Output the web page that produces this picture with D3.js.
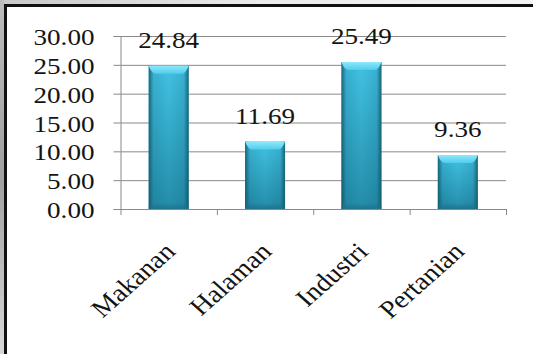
<!DOCTYPE html>
<html><head><meta charset="utf-8">
<script src="https://cdn.jsdelivr.net/npm/d3@7"></script>
<style>html,body{margin:0;padding:0;background:#fff;}svg{display:block;}</style>
</head><body>
<svg id="c" width="533" height="354"></svg>
<script>
const categories = ["Makanan", "Halaman", "Industri", "Pertanian"];
const values = [24.84, 11.69, 25.49, 9.36];
const yTicks = [0, 5, 10, 15, 20, 25, 30];

(function () {
const W = 533, H = 354;
const sx = 1.13; // horizontal stretch of the picture
const svg = d3.select("#c");
const defs = svg.append("defs");

// frame shading
const shade = defs.append("linearGradient").attr("id","shL").attr("x1",0).attr("x2",0).attr("y1",0).attr("y2",1);
shade.append("stop").attr("offset",0).attr("stop-color","#bdbdbd");
shade.append("stop").attr("offset",0.5).attr("stop-color","#a0a0a0");
shade.append("stop").attr("offset",1).attr("stop-color","#d8d8d8");
const shT = defs.append("linearGradient").attr("id","shT").attr("x1",0).attr("x2",1).attr("y1",0).attr("y2",0);
shT.append("stop").attr("offset",0).attr("stop-color","#c8c8c8");
shT.append("stop").attr("offset",0.5).attr("stop-color","#ececec");
shT.append("stop").attr("offset",1).attr("stop-color","#f4f4f4");
svg.append("rect").attr("x",0).attr("y",0).attr("width",W).attr("height",4).attr("fill","url(#shT)");
svg.append("rect").attr("x",0).attr("y",0).attr("width",4).attr("height",H).attr("fill","url(#shL)");
svg.append("rect").attr("x",4).attr("y",4).attr("width",W-4).attr("height",3).attr("fill","#111");
svg.append("rect").attr("x",4).attr("y",4).attr("width",3).attr("height",H-4).attr("fill","#111");

// bar gradients
const gV = defs.append("linearGradient").attr("id","gV").attr("x1",0).attr("x2",0).attr("y1",0).attr("y2",1);
gV.append("stop").attr("offset",0).attr("stop-color","#42c3e4");
gV.append("stop").attr("offset",1).attr("stop-color","#238daa");
const gH = defs.append("linearGradient").attr("id","gH").attr("x1",0).attr("x2",1).attr("y1",0).attr("y2",0);
gH.append("stop").attr("offset",0).attr("stop-color","#0d4f63").attr("stop-opacity",0.8);
gH.append("stop").attr("offset",0.12).attr("stop-color","#0d4f63").attr("stop-opacity",0.15);
gH.append("stop").attr("offset",0.5).attr("stop-color","#0d4f63").attr("stop-opacity",0);
gH.append("stop").attr("offset",0.88).attr("stop-color","#0d4f63").attr("stop-opacity",0.15);
gH.append("stop").attr("offset",1).attr("stop-color","#0d4f63").attr("stop-opacity",0.8);
const gB = defs.append("linearGradient").attr("id","gB").attr("x1",0).attr("x2",0).attr("y1",0).attr("y2",1);
gB.append("stop").attr("offset",0).attr("stop-color","#1d6f86").attr("stop-opacity",0);
gB.append("stop").attr("offset",1).attr("stop-color","#1d6f86").attr("stop-opacity",0.8);
const gCap = defs.append("linearGradient").attr("id","gCap").attr("x1",0).attr("x2",0).attr("y1",0).attr("y2",1);
gCap.append("stop").attr("offset",0).attr("stop-color","#8ee8fb");
gCap.append("stop").attr("offset",1).attr("stop-color","#4fcdec");

const pLeft = 120.5, pRight = 506, pTop = 36, pBottom = 209;
const y = d3.scaleLinear().domain([0, 30]).range([pBottom, pTop]);
const x = d3.scaleBand().domain(categories).range([pLeft, pRight]).paddingInner(0.585).paddingOuter(0.2925);
const step = x.step();

const font = "'Liberation Serif','Times New Roman',serif";

// gridlines
svg.append("g").selectAll("line").data(yTicks.filter(d => d > 0)).join("line")
  .attr("x1", pLeft).attr("x2", pRight)
  .attr("y1", d => y(d) + 0.5).attr("y2", d => y(d) + 0.5)
  .attr("stroke", "#8a8a8a").attr("stroke-width", 1);

// y axis
const yAxis = svg.append("g").attr("transform", `translate(${pLeft},0)`)
  .call(d3.axisLeft(y).tickValues(yTicks).tickSize(7).tickFormat(d3.format(".2f")));
yAxis.select(".domain").attr("stroke", "#8a8a8a");
yAxis.selectAll(".tick line").attr("stroke", "#8a8a8a");
yAxis.selectAll(".tick text")
  .attr("font-family", font).attr("font-size", 24).attr("fill", "#141414")
  .attr("x", null).attr("dy", null).attr("text-anchor", "end")
  .attr("transform", `translate(-26,8.5) scale(${sx},1)`);

// x axis
const bounds = d3.range(categories.length + 1).map(i => pLeft + i * step);
svg.append("line").attr("x1", pLeft).attr("x2", pRight).attr("y1", pBottom + 0.5).attr("y2", pBottom + 0.5).attr("stroke", "#8a8a8a");
svg.append("g").selectAll("line").data(bounds).join("line")
  .attr("x1", d => d + 0.5).attr("x2", d => d + 0.5)
  .attr("y1", pBottom).attr("y2", pBottom + 6).attr("stroke", "#8a8a8a");

// bars
const bars = svg.append("g").selectAll("g").data(categories).join("g");
const bw = x.bandwidth();
bars.append("rect")
  .attr("x", d => x(d)).attr("y", (d, i) => y(values[i]))
  .attr("width", bw).attr("height", (d, i) => pBottom - y(values[i]))
  .attr("fill", "url(#gV)");
bars.append("rect")
  .attr("x", d => x(d)).attr("y", (d, i) => y(values[i]))
  .attr("width", bw).attr("height", (d, i) => pBottom - y(values[i]))
  .attr("fill", "url(#gH)");
bars.append("rect")
  .attr("x", d => x(d)).attr("y", pBottom - 6)
  .attr("width", bw).attr("height", 6)
  .attr("fill", "url(#gB)");
bars.append("path")
  .attr("d", (d, i) => {
    const x0 = x(d), yt = y(values[i]);
    return `M${x0},${yt} L${x0 + bw},${yt} Q${x0 + bw - 3},${yt + 8} ${x0 + bw - 7},${yt + 8} L${x0 + 7},${yt + 8} Q${x0 + 3},${yt + 8} ${x0},${yt} Z`;
  })
  .attr("fill", "url(#gCap)");

// value labels
svg.append("g").selectAll("text").data(categories).join("text")
  .attr("transform", (d, i) => `translate(${x(d) + bw / 2},${y(values[i]) - 18}) scale(${sx},1)`)
  .attr("text-anchor", "middle")
  .attr("font-family", font).attr("font-size", 24).attr("fill", "#141414")
  .text((d, i) => values[i].toFixed(2));

// category labels
svg.append("g").selectAll("text").data(categories).join("text")
  .attr("transform", d => `translate(${x(d) + bw / 2 + 8},253) scale(${sx},1) rotate(-45)`)
  .attr("text-anchor", "end")
  .attr("font-family", font).attr("font-size", 25).attr("fill", "#141414")
  .text(d => d);
})();
</script>
</body></html>
